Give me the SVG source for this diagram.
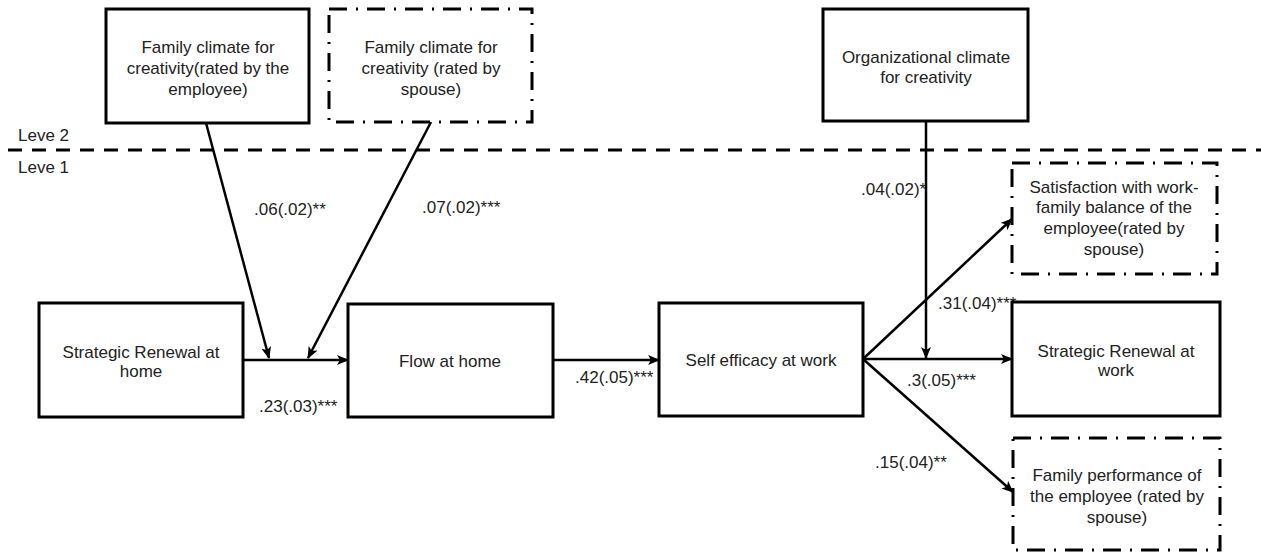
<svg xmlns="http://www.w3.org/2000/svg" width="1261" height="553" viewBox="0 0 1261 553">
<style>
  .box{fill:#fff;stroke:#000;stroke-width:3}
  .dd{fill:#fff;stroke:#000;stroke-width:3;stroke-dasharray:18 9 2 9}
  .t{font-family:"Liberation Sans",Arial,sans-serif;font-size:17px;fill:#222;text-anchor:middle}
  .lbl{font-family:"Liberation Sans",Arial,sans-serif;font-size:17px;fill:#222}
  .c{stroke:#000;stroke-width:2.5;fill:none;marker-end:url(#arr)}
  .lvl{stroke:#000;stroke-width:3;stroke-dasharray:14 10;fill:none}
</style>
<defs>
  <marker id="arr" markerUnits="userSpaceOnUse" markerWidth="12" markerHeight="10" viewBox="0 0 12 10" refX="11" refY="5" orient="auto">
    <path d="M0,0 L12,5 L0,10 L3,5 z" fill="#000"/>
  </marker>
</defs>
<rect width="1261" height="553" fill="#fff"/>

<g id="level-line">
  <line class="lvl" x1="8" y1="150" x2="1261" y2="150"/>
  <text class="lbl" x="18" y="141">Leve 2</text>
  <text class="lbl" x="18" y="173">Leve 1</text>
</g>

<g id="connectors">
  <line class="c" x1="243" y1="360" x2="348" y2="360"/>
  <line class="c" x1="553" y1="360" x2="659" y2="360"/>
  <line class="c" x1="206" y1="123" x2="269" y2="358"/>
  <line class="c" x1="431" y1="122" x2="308" y2="358"/>
  <line class="c" x1="926" y1="121" x2="926" y2="358"/>
  <line class="c" x1="863" y1="359" x2="1012" y2="219"/>
  <line class="c" x1="863" y1="359" x2="1012" y2="359"/>
  <line class="c" x1="863" y1="359" x2="1013" y2="492"/>
  <text class="lbl" x="254" y="215">.06(.02)**</text>
  <text class="lbl" x="422" y="213">.07(.02)***</text>
  <text class="lbl" x="259" y="412">.23(.03)***</text>
  <text class="lbl" x="575" y="383">.42(.05)***</text>
  <text class="lbl" x="861" y="195">.04(.02)*</text>
  <text class="lbl" x="938" y="309">.31(.04)***</text>
  <text class="lbl" x="907" y="386">.3(.05)***</text>
  <text class="lbl" x="875" y="468">.15(.04)**</text>
</g>

<g id="family-climate-employee">
  <rect class="box" x="106" y="9" width="203" height="114"/>
  <text class="t" x="208" y="53">Family climate for</text>
  <text class="t" x="208" y="74">creativity(rated by the</text>
  <text class="t" x="208" y="95">employee)</text>
</g>

<g id="family-climate-spouse">
  <rect class="dd" x="329" y="9" width="203" height="113"/>
  <text class="t" x="431" y="53">Family climate for</text>
  <text class="t" x="431" y="74">creativity (rated by</text>
  <text class="t" x="431" y="95">spouse)</text>
</g>

<g id="org-climate">
  <rect class="box" x="823" y="9" width="205" height="112"/>
  <text class="t" x="926" y="63">Organizational climate</text>
  <text class="t" x="926" y="83">for creativity</text>
</g>

<g id="sr-home">
  <rect class="box" x="39" y="303" width="204" height="114"/>
  <text class="t" x="141" y="358">Strategic Renewal at</text>
  <text class="t" x="141" y="377">home</text>
</g>

<g id="flow-home">
  <rect class="box" x="348" y="304" width="205" height="113"/>
  <text class="t" x="450" y="367">Flow at home</text>
</g>

<g id="self-efficacy">
  <rect class="box" x="659" y="303" width="204" height="113"/>
  <text class="t" x="761" y="366">Self efficacy at work</text>
</g>

<g id="satisfaction">
  <rect class="dd" x="1012" y="163" width="205" height="111"/>
  <text class="t" x="1114" y="193">Satisfaction with work-</text>
  <text class="t" x="1114" y="213">family balance of the</text>
  <text class="t" x="1114" y="234">employee(rated by</text>
  <text class="t" x="1114" y="255">spouse)</text>
</g>

<g id="sr-work">
  <rect class="box" x="1012" y="302" width="208" height="114"/>
  <text class="t" x="1116" y="357">Strategic Renewal at</text>
  <text class="t" x="1116" y="376">work</text>
</g>

<g id="family-performance">
  <rect class="dd" x="1013" y="438" width="207" height="112"/>
  <text class="t" x="1117" y="481">Family performance of</text>
  <text class="t" x="1117" y="502">the employee (rated by</text>
  <text class="t" x="1117" y="523">spouse)</text>
</g>
</svg>
